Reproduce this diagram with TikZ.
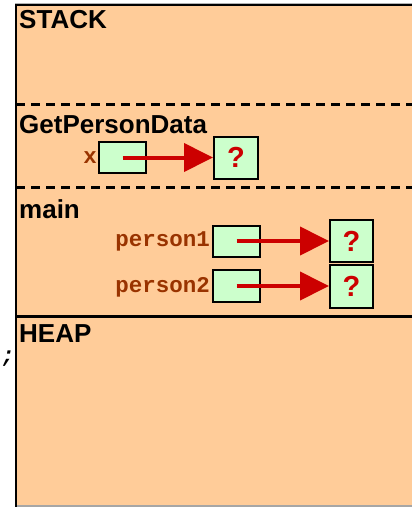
\documentclass[tikz,border=0pt]{standalone}
\usepackage{fontspec}
\setmainfont{Liberation Sans}
\setmonofont{Liberation Mono}
\usetikzlibrary{arrows.meta}
\definecolor{framefill}{HTML}{FFCC99}
\definecolor{cellfill}{HTML}{CCFFCC}
\definecolor{ptrred}{HTML}{CC0000}
\definecolor{varbrown}{HTML}{993300}
\tikzset{
  region/.style={anchor=base west, inner sep=0pt, font=\fontsize{26}{30}\selectfont\bfseries},
  varname/.style={anchor=base east, inner sep=0pt, text=varbrown, font=\fontsize{22.5}{26}\selectfont\ttfamily\bfseries},
  ptrcell/.style={draw=black, line width=2pt, fill=cellfill, minimum width=47pt, minimum height=31pt, inner sep=0pt},
  objcell/.style={draw=black, line width=2pt, fill=cellfill, minimum width=43pt, minimum height=42pt, inner sep=0pt,
                  text=ptrred, font=\fontsize{29}{32}\selectfont\bfseries},
  ptr/.style={draw=ptrred, fill=ptrred, line width=4pt, -{Triangle[length=29pt,width=28pt]}},
  divider/.style={line width=3pt, dash pattern=on 9pt off 6pt}
}
\begin{document}
\begin{tikzpicture}[x=1pt,y=-1pt]
  \useasboundingbox (0,0) rectangle (412,507);
  % memory area
  \fill[framefill] (16,5) rectangle (412,506);
  \draw[gray!70, line width=1.5pt] (16,506) -- (412,506);
  \draw[gray!60, line width=1pt] (15,3) -- (412,3);
  \draw[line width=2.5pt] (16,5) -- (412,5);
  \draw[line width=2.5pt] (16,4) -- (16,507);
  % frame separators
  \draw[divider] (16,104) -- (412,104);
  \draw[divider] (16,187) -- (412,187);
  \draw[line width=3pt] (16,316) -- (412,316);

  % section titles
  \node[region] (stack) at (19,28) {STACK};
  \node[region] (gpd) at (19,133) {GetPersonData};
  \node[region] (mainf) at (19,218) {main};
  \node[region] (heap) at (19,342) {HEAP};
  \node[anchor=base, inner sep=0pt, font=\fontsize{22}{26}\selectfont\ttfamily\bfseries\itshape] (semi) at (8,362) {;};

  % GetPersonData frame
  \node[varname] (xlab) at (97,163) {x};
  \node[ptrcell] (xcell) at (122.5,157.5) {};
  \node[objcell, minimum width=44pt] (q0) at (236,157.5) {?};
  \draw[ptr] (xcell.center) -- (q0.west);

  % main frame
  \node[varname] (p1lab) at (210,246) {person1};
  \node[ptrcell] (p1cell) at (236.5,241) {};
  \node[objcell] (q1) at (351.5,241) {?};
  \draw[ptr] (p1cell.center) -- (q1.west);

  \node[varname] (p2lab) at (210,292) {person2};
  \node[ptrcell, minimum height=32pt] (p2cell) at (236.5,286) {};
  \node[objcell, minimum height=43pt] (q2) at (351.5,286) {?};
  \draw[ptr] (p2cell.center) -- (q2.west);
\end{tikzpicture}
\end{document}
